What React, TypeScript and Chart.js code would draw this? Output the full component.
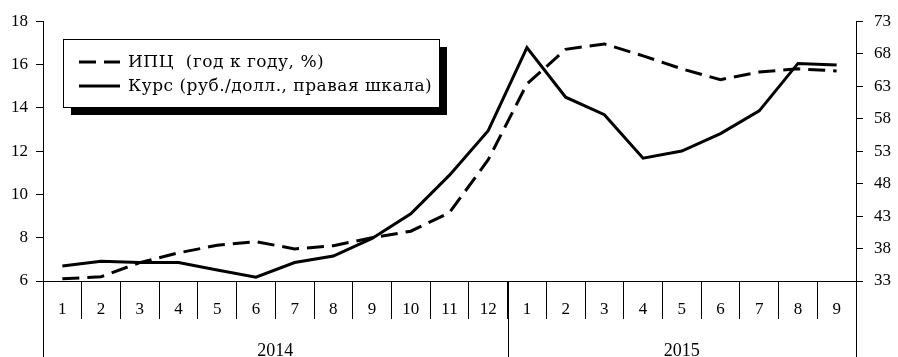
import React, { useEffect, useRef } from 'react';
import { Chart, registerables } from 'chart.js';

Chart.register(...registerables);

const months = ['1', '2', '3', '4', '5', '6', '7', '8', '9', '10', '11', '12', '1', '2', '3', '4', '5', '6', '7', '8', '9'];
const years = ['2014', '2015'];
const yearSpans = [12, 9];
const cpi = [6.1, 6.2, 6.85, 7.3, 7.65, 7.82, 7.48, 7.63, 8.0, 8.3, 9.16, 11.6, 15.1, 16.7, 16.95, 16.4, 15.8, 15.3, 15.65, 15.8, 15.7];
const rate = [35.3, 36.05, 35.85, 35.85, 34.7, 33.6, 35.85, 36.85, 39.55, 43.35, 49.3, 56.15, 68.95, 61.3, 58.6, 51.9, 53.0, 55.7, 59.2, 66.5, 66.25];
const seriesLabels = ['ИПЦ  (год к году, %)', 'Курс (руб./долл., правая шкала)'];
const leftMin = 6, leftMax = 18, leftStep = 2;
const rightMin = 33, rightMax = 73, rightStep = 5;

const FONT = "'Liberation Serif', 'DejaVu Serif', serif";
const LEGEND_FONT = "'DejaVu Serif', 'Liberation Serif', serif";

const extrasPlugin = {
  id: 'extras',
  afterDraw(chart: any) {
    const ctx = chart.ctx;
    const x = chart.scales.x;
    const ca = chart.chartArea;
    ctx.save();
    ctx.strokeStyle = '#000';
    ctx.lineWidth = 1;
    const bounds: number[] = [-0.5];
    let acc = 0;
    yearSpans.forEach((s) => { acc += s; bounds.push(acc - 0.5); });
    bounds.forEach((b) => {
      const px = Math.round(x.getPixelForValue(b)) + 0.5;
      ctx.beginPath();
      ctx.moveTo(px, ca.bottom);
      ctx.lineTo(px, chart.height);
      ctx.stroke();
    });
    ctx.fillStyle = '#000';
    ctx.font = `18px ${FONT}`;
    ctx.textAlign = 'center';
    ctx.textBaseline = 'alphabetic';
    let start = 0;
    years.forEach((yl, i) => {
      const c = x.getPixelForValue(start + (yearSpans[i] - 1) / 2);
      ctx.fillText(yl, c, chart.height - 1);
      start += yearSpans[i];
    });
    const bx = 63, by = 39, bw = 376, bh = 68, sh = 8;
    ctx.fillStyle = '#000';
    ctx.fillRect(bx + sh, by + sh, bw, bh);
    ctx.fillStyle = '#fff';
    ctx.fillRect(bx, by, bw, bh);
    ctx.strokeStyle = '#000';
    ctx.lineWidth = 1;
    ctx.strokeRect(bx + 0.5, by + 0.5, bw, bh);
    const rows = [62, 86];
    chart.data.datasets.forEach((ds: any, i: number) => {
      const yy = rows[i];
      ctx.beginPath();
      ctx.lineWidth = 3;
      ctx.setLineDash(ds.borderDash || []);
      ctx.moveTo(79, yy);
      ctx.lineTo(120, yy);
      ctx.stroke();
      ctx.setLineDash([]);
      ctx.fillStyle = '#000';
      ctx.font = `17px ${LEGEND_FONT}`;
      try { (ctx as any).letterSpacing = '0.5px'; } catch (e) { /* ignore */ }
      ctx.textAlign = 'left';
      ctx.textBaseline = 'middle';
      ctx.fillText(ds.label, 128, yy + 1);
      try { (ctx as any).letterSpacing = '0px'; } catch (e) { /* ignore */ }
    });
    ctx.restore();
  },
};

export default function App() {
  const ref = useRef<HTMLCanvasElement | null>(null);
  useEffect(() => {
    if (!ref.current) return;
    Chart.defaults.font.family = FONT;
    Chart.defaults.font.size = 17;
    Chart.defaults.color = '#000';
    const chart = new Chart(ref.current, {
      type: 'line',
      data: {
        labels: months,
        datasets: [
          {
            label: seriesLabels[0],
            data: cpi,
            yAxisID: 'y',
            borderColor: '#000',
            borderWidth: 3,
            borderDash: [17, 8],
            pointRadius: 0,
            tension: 0,
            fill: false,
          },
          {
            label: seriesLabels[1],
            data: rate,
            yAxisID: 'y1',
            borderColor: '#000',
            borderWidth: 3,
            pointRadius: 0,
            tension: 0,
            fill: false,
          },
        ],
      },
      options: {
        animation: false,
        responsive: false,
        devicePixelRatio: 1,
        layout: { padding: { top: 18, left: 0, right: 0, bottom: 0 } },
        plugins: { legend: { display: false }, tooltip: { enabled: false } },
        scales: {
          x: {
            type: 'category',
            offset: true,
            grid: { offset: true, drawOnChartArea: false, drawTicks: true, tickLength: 38, color: '#000', lineWidth: 1 },
            border: { display: true, color: '#000', width: 1 },
            ticks: { autoSkip: false, maxRotation: 0, padding: -20, font: { size: 17, family: FONT }, color: '#000' },
            afterFit: (s: any) => { s.height = 76; },
          },
          y: {
            position: 'left',
            min: leftMin,
            max: leftMax,
            ticks: { stepSize: leftStep, padding: 8, font: { size: 17, family: FONT }, color: '#000' },
            grid: { drawOnChartArea: false, drawTicks: true, tickLength: 7, color: '#000' },
            border: { display: true, color: '#000', width: 1 },
            afterFit: (s: any) => { s.width = 43; },
          },
          y1: {
            position: 'right',
            min: rightMin,
            max: rightMax,
            ticks: { stepSize: rightStep, padding: 11, font: { size: 17, family: FONT }, color: '#000' },
            grid: { drawOnChartArea: false, drawTicks: true, tickLength: 7, color: '#000' },
            border: { display: true, color: '#000', width: 1 },
            afterFit: (s: any) => { s.width = 42; },
          },
        },
      },
      plugins: [extrasPlugin],
    } as any);
    return () => chart.destroy();
  }, []);
  return (
    <div style={{ position: 'fixed', left: 0, top: 0, width: 898, height: 357, background: '#fff' }}>
      <canvas ref={ref} width={898} height={357} style={{ display: 'block' }} />
    </div>
  );
}
